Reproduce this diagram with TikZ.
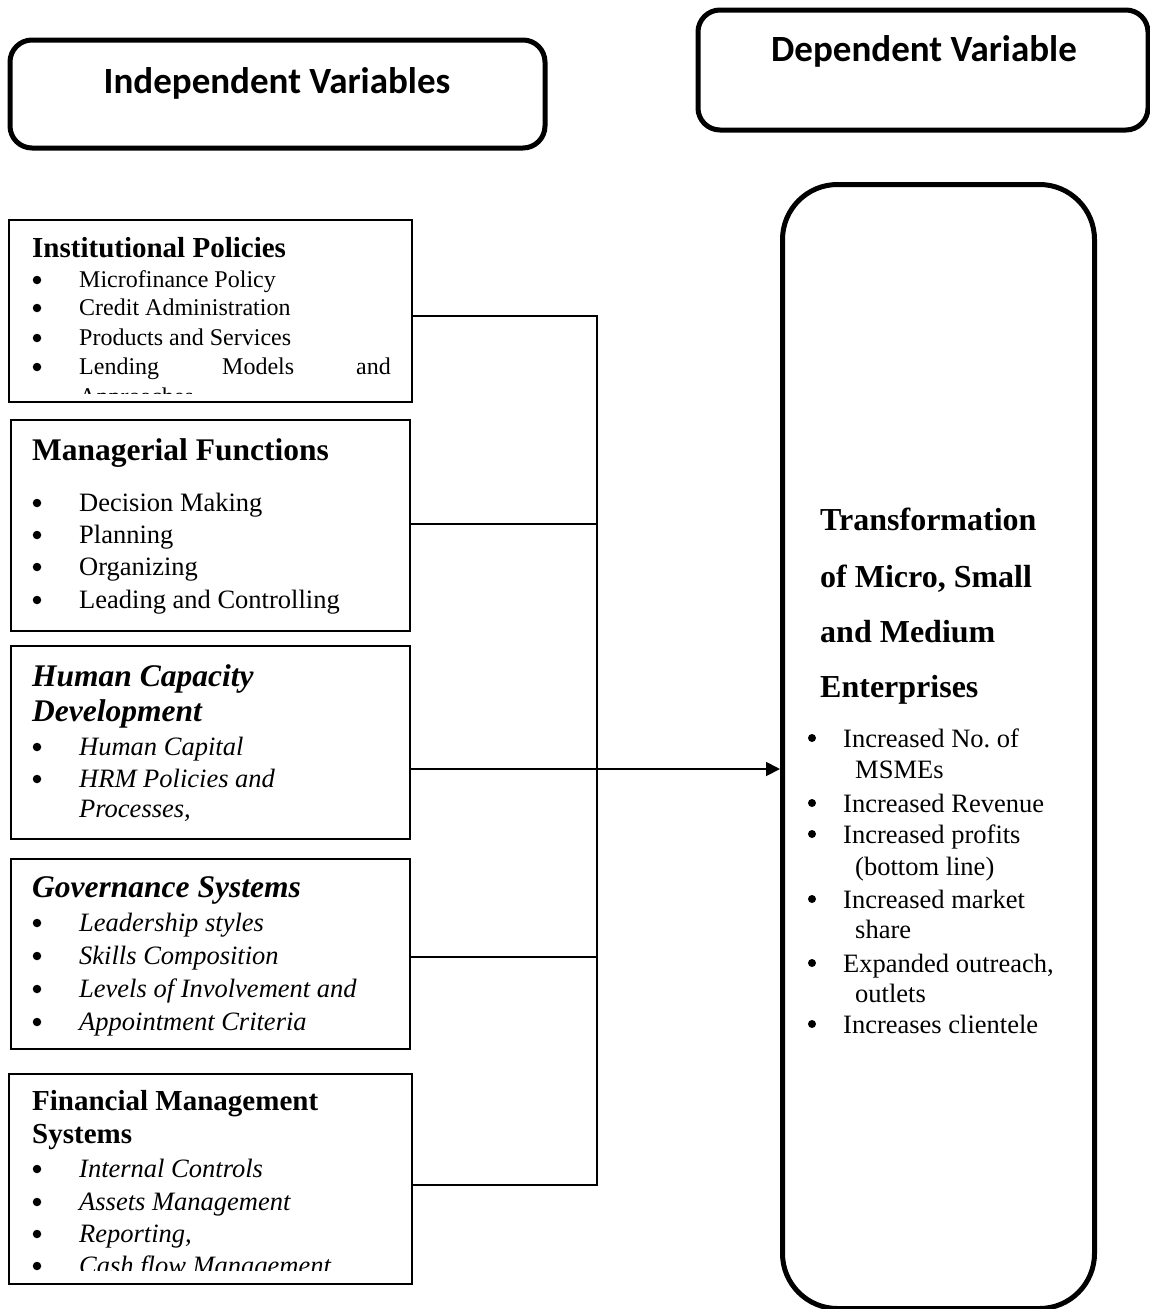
\documentclass[tikz,border=0pt]{standalone}
\usepackage{fontspec}
\setmainfont{Liberation Serif}
\newfontfamily\calib{Carlito}
\usetikzlibrary{arrows.meta}
\begin{document}
\begin{tikzpicture}[x=1pt,y=-1pt,
  hdr/.style={draw, line width=5pt, rounded corners=22pt},
  hdrtext/.style={anchor=base, inner sep=0pt, font=\calib\fontsize{37}{40}\selectfont\bfseries},
  ibox/.style={draw, line width=1.8pt},
  conn/.style={line width=1.8pt},
  dot/.style={circle, fill, inner sep=0pt, minimum size=8.5pt},
  t/.style={anchor=base west, inner sep=0pt},
  ttl/.style={t, font=\fontsize{29}{32}\selectfont\bfseries},
  ttlb/.style={t, font=\fontsize{31.5}{34}\selectfont\bfseries},
  ttli/.style={t, font=\fontsize{31.5}{34}\selectfont\bfseries\itshape},
  itm/.style={t, font=\fontsize{24}{27}\selectfont},
  itmb/.style={t, font=\fontsize{26.5}{30}\selectfont},
  itmi/.style={t, font=\fontsize{26.5}{30}\selectfont\itshape},
  ritm/.style={t, font=\fontsize{26.5}{30}\selectfont},
  rttl/.style={t, font=\fontsize{32}{36}\selectfont\bfseries}
]
\useasboundingbox (0,0) rectangle (1150,1309);
% header boxes
\draw[hdr] (10,40) rectangle (545,148);
\node[hdrtext] (ih) at (277,93) {Independent Variables};
\draw[hdr] (698,10) rectangle (1148,130);
\node[hdrtext] (dh) at (924,61) {Dependent Variable};
% dependent big box
\node[draw, line width=5pt, rounded corners=55pt, minimum width=312pt, minimum height=1124pt, anchor=north west, inner sep=0pt] (dv) at (780,182) {};
% left boxes
\node[ibox, anchor=north west, minimum width=403pt, minimum height=182pt, inner sep=0pt] (b1) at (8,219) {};
\node[ibox, anchor=north west, minimum width=399pt, minimum height=211pt, inner sep=0pt] (b2) at (10,419) {};
\node[ibox, anchor=north west, minimum width=399pt, minimum height=193pt, inner sep=0pt] (b3) at (10,645) {};
\node[ibox, anchor=north west, minimum width=399pt, minimum height=190pt, inner sep=0pt] (b4) at (10,858) {};
\node[ibox, anchor=north west, minimum width=403pt, minimum height=210pt, inner sep=0pt] (b5) at (8,1073) {};
% box 1
\node[ttl] (t1) at (32,257) {Institutional Policies};
\begin{scope}
\clip (8,219) rectangle (411,393);
\foreach \y/\s [count=\i] in {287/Microfinance Policy,315/Credit Administration,345/Products and Services} {
  \node[dot] (b1d\i) at (37,\y-7) {};
  \node[itm] (b1i\i) at (79,\y) {\s};
}
\node[dot] (b1d4) at (37,367) {};
\node[itm] (b1i4a) at (79,374) {Lending};
\node[itm] (b1i4b) at (222,374) {Models};
\node[itm] (b1i4c) at (356,374) {and};
\node[itm] (b1i5) at (79,404) {Approaches};
\end{scope}
% box 2
\node[ttlb] (t2) at (32,460) {Managerial Functions};
\foreach \y/\s [count=\i] in {511/Decision Making,543/Planning,575/Organizing,608/Leading and Controlling} {
  \node[dot] (b2d\i) at (37,\y-8) {};
  \node[itmb] (b2i\i) at (79,\y) {\s};
}
% box 3
\node[ttli] (t3a) at (32,686) {Human Capacity};
\node[ttli] (t3b) at (32,721) {Development};
\node[dot] (b3d1) at (37,747) {};
\node[itmi] (b3i1) at (79,755) {Human Capital};
\node[dot] (b3d2) at (37,779) {};
\node[itmi] (b3i2) at (79,787) {HRM Policies and};
\node[itmi] (b3i3) at (79,817) {Processes,};
% box 4
\node[ttli] (t4) at (32,897) {Governance Systems};
\foreach \y/\s [count=\i] in {931/Leadership styles,964/Skills Composition,997/Levels of Involvement and,1030/Appointment Criteria} {
  \node[dot] (b4d\i) at (37,\y-8) {};
  \node[itmi] (b4i\i) at (79,\y) {\s};
}
% box 5
\node[ttl] (t5a) at (32,1110) {Financial Management};
\node[ttl] (t5b) at (32,1143) {Systems};
\begin{scope}
\clip (8,1073) rectangle (411,1270.5);
\foreach \y/\s [count=\i] in {1177/Internal Controls,1210/Assets Management,1242/{Reporting,},1274/Cash flow Management} {
  \node[dot] (b5d\i) at (37,\y-8) {};
  \node[itmi] (b5i\i) at (79,\y) {\s};
}
\end{scope}
% right box text
\node[rttl] (r1) at (820,530) {Transformation};
\node[rttl] (r2) at (820,587) {of Micro, Small};
\node[rttl] (r3) at (820,642) {and Medium};
\node[rttl] (r4) at (820,697) {Enterprises};
\foreach \y [count=\i] in {747,812,843,908,972,1033} {
  \node[dot, minimum size=8pt] (rd\i) at (812,\y-9) {};
}
\node[ritm] (ri1) at (843,747) {Increased No.\ of};
\node[ritm] (ri1b) at (855,778) {MSMEs};
\node[ritm] (ri2) at (843,812) {Increased Revenue};
\node[ritm] (ri3) at (843,843) {Increased profits};
\node[ritm] (ri3b) at (855,875) {(bottom line)};
\node[ritm] (ri4) at (843,908) {Increased market};
\node[ritm] (ri4b) at (855,938) {share};
\node[ritm] (ri5) at (843,972) {Expanded outreach,};
\node[ritm] (ri5b) at (855,1002) {outlets};
\node[ritm] (ri6) at (843,1033) {Increases clientele};
% connectors
\coordinate (j1) at (597,316);
\coordinate (j2) at (597,524);
\coordinate (j3) at (597,769);
\coordinate (j4) at (597,957);
\coordinate (j5) at (597,1185);
\draw[conn] (b1.east |- j1) -- (j1) -- (j5) -- (b5.east |- j5);
\draw[conn] (b2.east |- j2) -- (j2);
\draw[conn] (b4.east |- j4) -- (j4);
\draw[conn, -{Triangle[length=14pt,width=14pt]}] (b3.east |- j3) -- (dv.west |- j3);
\end{tikzpicture}
\end{document}
